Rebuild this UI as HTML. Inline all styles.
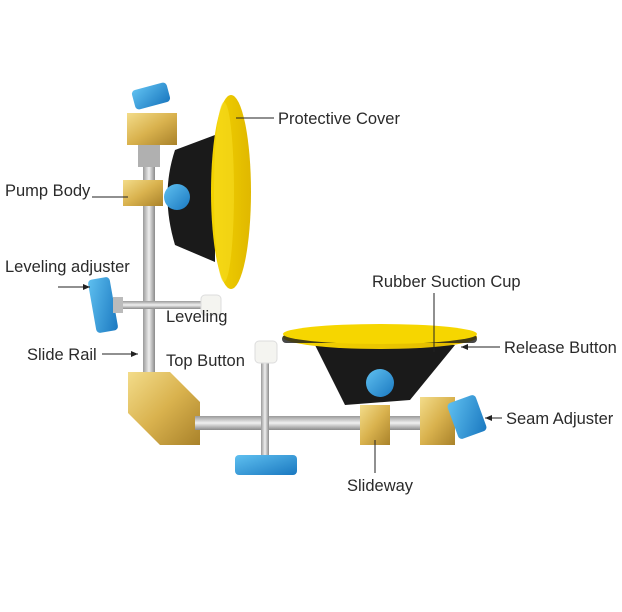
<!DOCTYPE html>
<html><head><meta charset="utf-8"><style>
html,body{margin:0;padding:0;background:#fff;}
svg{display:block}
text{font-family:"Liberation Sans",sans-serif;font-size:16.5px;fill:#2a2a2a}
</style></head><body>
<svg width="622" height="612" viewBox="0 0 622 612" xmlns="http://www.w3.org/2000/svg">
<defs>
<linearGradient id="gold" x1="0" y1="0" x2="1" y2="1"><stop offset="0" stop-color="#f3dc8a"/><stop offset="0.5" stop-color="#d9b24e"/><stop offset="1" stop-color="#a9822a"/></linearGradient>
<linearGradient id="steel" x1="0" y1="0" x2="1" y2="0"><stop offset="0" stop-color="#9a9a9a"/><stop offset="0.5" stop-color="#eeeeee"/><stop offset="1" stop-color="#8a8a8a"/></linearGradient>
<linearGradient id="steelh" x1="0" y1="0" x2="0" y2="1"><stop offset="0" stop-color="#9a9a9a"/><stop offset="0.5" stop-color="#f0f0f0"/><stop offset="1" stop-color="#8a8a8a"/></linearGradient>
<linearGradient id="blue" x1="0" y1="0" x2="1" y2="1"><stop offset="0" stop-color="#5fc0f0"/><stop offset="1" stop-color="#1a78c0"/></linearGradient>
<linearGradient id="yel" x1="0" y1="0" x2="1" y2="0"><stop offset="0" stop-color="#f4d400"/><stop offset="1" stop-color="#e0b800"/></linearGradient>
<marker id="ar" markerWidth="8" markerHeight="8" refX="7" refY="4" orient="auto"><path d="M0,1 L7,4 L0,7 Z" fill="#222"/></marker>
</defs>

<rect x="143" y="140" width="12" height="245" fill="url(#steel)"/>
<rect x="133" y="86" width="36" height="20" rx="4" fill="url(#blue)" transform="rotate(-15 151 96)"/>
<rect x="127" y="113" width="50" height="32" fill="url(#gold)"/>
<rect x="138" y="145" width="22" height="22" fill="#b0b0b0"/>
<path d="M215,135 L175,150 Q160,195 175,245 L215,262 Z" fill="#1a1a1a"/>
<ellipse cx="231" cy="192" rx="20" ry="97" fill="url(#yel)"/>
<ellipse cx="224" cy="192" rx="10" ry="90" fill="#f7dc20" opacity="0.6"/>
<rect x="123" y="180" width="40" height="26" fill="url(#gold)"/>
<circle cx="177" cy="197" r="13" fill="url(#blue)"/>
<rect x="118" y="301" width="90" height="8" fill="url(#steelh)"/>
<rect x="92" y="278" width="22" height="54" rx="4" fill="url(#blue)" transform="rotate(-10 103 305)"/>
<rect x="113" y="297" width="10" height="16" fill="#bbb"/>
<rect x="201" y="295" width="20" height="20" rx="4" fill="#f4f4f0" stroke="#ddd"/>
<path d="M128,372 L170,372 L200,402 L200,445 L160,445 L128,413 Z" fill="url(#gold)"/>
<rect x="195" y="416" width="260" height="14" fill="url(#steelh)"/>
<rect x="261" y="355" width="8" height="105" fill="url(#steel)"/>
<rect x="255" y="341" width="22" height="22" rx="4" fill="#f4f4f0" stroke="#ddd"/>
<rect x="235" y="455" width="62" height="20" rx="4" fill="url(#blue)"/>
<path d="M315,345 L455,345 L410,400 L345,405 Z" fill="#1a1a1a"/>
<ellipse cx="380" cy="337" rx="97" ry="12" fill="url(#yel)"/>
<rect x="282" y="335" width="195" height="8" fill="#1a1a1a" opacity="0.8" rx="4"/>
<ellipse cx="380" cy="334" rx="97" ry="10" fill="#f6d600"/>
<circle cx="380" cy="383" r="14" fill="url(#blue)"/>
<rect x="360" y="405" width="30" height="40" fill="url(#gold)"/>
<rect x="420" y="397" width="35" height="48" fill="url(#gold)"/>
<rect x="452" y="398" width="30" height="38" rx="4" fill="url(#blue)" transform="rotate(-20 467 417)"/>

<text x="278" y="124">Protective Cover</text>
<line x1="274" y1="118" x2="236" y2="118" stroke="#222" stroke-width="1"/>
<text x="5" y="196">Pump Body</text>
<line x1="92" y1="197" x2="128" y2="197" stroke="#222" stroke-width="1"/>
<text x="5" y="272">Leveling adjuster</text>
<line x1="58" y1="287" x2="90" y2="287" stroke="#222" marker-end="url(#ar)"/>
<text x="166" y="322">Leveling</text>
<text x="166" y="366">Top Button</text>
<text x="27" y="360">Slide Rail</text>
<line x1="102" y1="354" x2="138" y2="354" stroke="#222" marker-end="url(#ar)"/>
<text x="372" y="287">Rubber Suction Cup</text>
<line x1="434" y1="293" x2="434" y2="352" stroke="#222"/>
<text x="504" y="353">Release Button</text>
<line x1="500" y1="347" x2="461" y2="347" stroke="#222" marker-end="url(#ar)"/>
<text x="506" y="424">Seam Adjuster</text>
<line x1="502" y1="418" x2="485" y2="418" stroke="#222" marker-end="url(#ar)"/>
<text x="347" y="491">Slideway</text>
<line x1="375" y1="440" x2="375" y2="473" stroke="#222"/>
</svg>
</body></html>
